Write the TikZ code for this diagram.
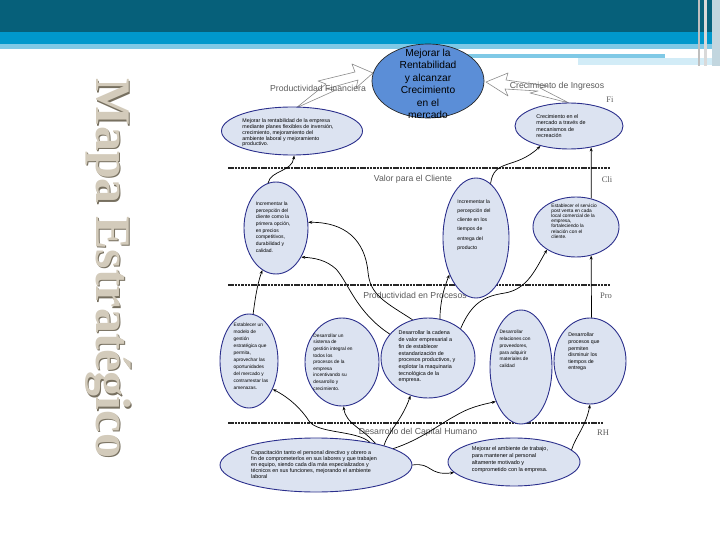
\documentclass[tikz,border=0pt]{standalone}
\usepackage{fontspec}
\setmainfont{Liberation Sans}
\newfontfamily\titlefont{Liberation Serif}
\usetikzlibrary{shapes.geometric,arrows.meta}
\definecolor{hdrdark}{HTML}{06607A}
\definecolor{hdrblue}{HTML}{0098CC}
\definecolor{hdrlight}{HTML}{7FC9E6}
\definecolor{hdrpale}{HTML}{D2ECF7}
\definecolor{ellblue}{HTML}{2B2F8C}
\definecolor{ellfill}{HTML}{DCE3F1}
\definecolor{bigfill}{HTML}{5B8ED7}
\definecolor{labgray}{HTML}{5A5A5A}
\definecolor{titlefill}{HTML}{D3CBBB}
\definecolor{titleshadow}{HTML}{777060}
\begin{document}
\begin{tikzpicture}[x=1pt,y=-1pt,
  obj/.style={ellipse, draw=ellblue, fill=ellfill, line width=0.9pt, inner sep=0pt},
  txt/.style={align=left, inner sep=0pt, text=black, font=\fontsize{5}{6.7}\selectfont},
  arr/.style={-{Stealth[length=4pt,width=3pt]}, line width=0.7pt, black},
  sep/.style={line width=1.3pt, dash pattern=on 2.5pt off 0.8pt, black!85},
  lbl/.style={font=\fontsize{8.7}{10}\selectfont, text=labgray, inner sep=0pt},
  side/.style={font=\titlefont\fontsize{8.5}{10}\selectfont, text=labgray, inner sep=0pt},
  hollow/.style={draw=black!45, fill=white, line width=0.6pt, line join=round}]
\useasboundingbox (0,0) rectangle (720,540);
% header
\fill[hdrdark] (0,0) rectangle (720,32);
\fill[hdrblue] (0,32) rectangle (720,44);
\fill[hdrlight] (0,44) rectangle (720,49);
\fill[hdrlight] (459,54) rectangle (665,58);
\fill[hdrpale] (578,58) rectangle (720,65);
\fill[black!25] (698,0) rectangle (700,66);
\fill[black!15] (704,0) rectangle (707,66);
\fill[hdrpale!80!gray] (712,0) rectangle (720,66);
% title
\node[rotate=-90, font=\titlefont\bfseries\fontsize{50}{50}\selectfont, text=titleshadow] (titleS) at (109.6,269.6) {Mapa Estratégico};
\node[rotate=-90, font=\titlefont\bfseries\fontsize{50}{50}\selectfont, text=titlefill] (title) at (108.5,268.5) {Mapa Estratégico};
% separators
\draw[sep] (228,168) -- (610,168);
\draw[sep] (228,285) -- (610,285);
\draw[sep] (228,423) -- (603,423);
% perspective labels
\node[lbl] (lcli) at (413,179) {Valor para el Cliente};
\node[lbl] (lpro) at (415,295) {Productividad en Procesos};
\node[lbl] (lrh) at (418,432) {Desarrollo del Capital Humano};
\node[side] (sfi) at (610,100) {Fi};
\node[side] (scli) at (607,180) {Cli};
\node[side] (spro) at (606,296) {Pro};
\node[side] (srh) at (603,433) {RH};
% hollow arrows
\draw[hollow] (296,108) -- (336,90) -- (326,89) -- (358,80) -- (356,88) -- (373,73) -- (352,64) -- (355,72) -- (318,81) -- (326,84) -- cycle;
\draw[hollow] (486,82) -- (508,73) -- (506,80) -- (548,86) -- (540,88) -- (569,103) -- (530,93) -- (538,91) -- (505,89) -- (508,96) -- cycle;
\node[lbl] (lfin) at (318,88) {Productividad Financiera};
\node[lbl] (ling) at (557,86) {Crecimiento de Ingresos};
% ellipses
\node[ellipse, draw=black!85, fill=bigfill, line width=0.7pt, minimum width=112pt, minimum height=74pt] (big) at (428,81) {};
\node[align=center, inner sep=0pt, font=\fontsize{10.2}{12.5}\selectfont] (bigT) at (428,84) {Mejorar la\\Rentabilidad\\y alcanzar\\Crecimiento\\en el\\mercado};
\node[obj, minimum width=141pt, minimum height=48pt] (fin) at (292,131) {};
\node[txt, font=\fontsize{5.3}{5.7}\selectfont] (finT) at (288,133) {Mejorar la rentabilidad de la empresa\\mediante planes flexibles de inversión,\\crecimiento, mejoramiento del\\ambiente laboral y mejoramiento\\productivo.};
\node[obj, minimum width=108pt, minimum height=46pt] (crec) at (569,126) {};
\node[txt, font=\fontsize{5.4}{6.3}\selectfont] (crecT) at (561,126) {Crecimiento en el\\mercado a través de\\mecanismos de\\recreación};
\node[obj, minimum width=64pt, minimum height=92pt] (cli1) at (276,228) {};
\node[txt] (cli1T) at (273,227) {Incrementar la\\percepción del\\cliente como la\\primera opción,\\en precios\\competitivos,\\durabilidad y\\calidad.};
\node[obj, minimum width=66pt, minimum height=120pt] (cli2) at (476,238) {};
\node[txt, font=\fontsize{5.1}{9.3}\selectfont] (cli2T) at (474,225) {Incrementar la\\percepción del\\cliente en los\\tiempos de\\entrega del\\producto};
\node[obj, minimum width=86pt, minimum height=60pt] (cli3) at (576,227) {};
\node[txt, font=\fontsize{4.8}{5.2}\selectfont] (cli3T) at (574,221) {Establecer el servicio\\post venta en cada\\local comercial de la\\empresa,\\fortaleciendo la\\relación con el\\cliente.};
\node[obj, minimum width=58pt, minimum height=94pt] (procA) at (249,361) {};
\node[txt, font=\fontsize{4.8}{7}\selectfont] (procAT) at (251,356) {Establecer un\\modelo de\\gestión\\estratégica que\\permita,\\aprovechar las\\oportunidades\\del mercado y\\contrarrestar las\\amenazas.};
\node[obj, minimum width=74pt, minimum height=88pt] (procB) at (342,362) {};
\node[txt, font=\fontsize{4.8}{6.6}\selectfont] (procBT) at (333,362) {Desarrollar un\\sistema de\\gestión integral en\\todos los\\procesos de la\\empresa\\incentivando su\\desarrollo y\\crecimiento.};
\node[obj, minimum width=94pt, minimum height=80pt] (procC) at (428,358) {};
\node[txt, font=\fontsize{5.4}{6.7}\selectfont] (procCT) at (427,357) {Desarrollar la cadena\\de valor empresarial a\\fin de establecer\\estandarización de\\procesos productivos, y\\explotar la maquinaria\\tecnológica de la\\empresa.};
\node[obj, minimum width=62pt, minimum height=114pt] (procD) at (521,367) {};
\node[txt, font=\fontsize{4.8}{6.8}\selectfont] (procDT) at (515,349) {Desarrollar\\relaciones con\\proveedores,\\para adquirir\\materiales de\\calidad};
\node[obj, minimum width=72pt, minimum height=86pt] (procE) at (590,361) {};
\node[txt, font=\fontsize{5.2}{6.6}\selectfont] (procET) at (584,352) {Desarrollar\\procesos que\\permiten\\disminuir los\\tiempos de\\entrega};
\node[obj, minimum width=192pt, minimum height=54pt] (hrA) at (316,465) {};
\node[txt, font=\fontsize{5.4}{6}\selectfont] (hrAT) at (314,465) {Capacitación tanto el personal directivo y obrero a\\fin de comprometerlos en sus labores y que trabajen\\en equipo, siendo cada día más especializados y\\técnicos en sus funciones, mejorando el ambiente\\laboral};
\node[obj, minimum width=132pt, minimum height=48pt] (hrB) at (514,462) {};
\node[txt, font=\fontsize{5.5}{7}\selectfont] (hrBT) at (510,460) {Mejorar el ambiente de trabajo,\\para mantener al personal\\altamente motivado y\\comprometido con la empresa.};
% connectors Cliente -> Financiera
\draw[arr] (cli1.100) .. controls (271,170) and (292,172) .. (fin.-85);
\draw[arr] (cli2.75) .. controls (494,158) and (515,170) .. (crec.215);
\draw[arr] (cli3.62) -- (crec.-44);
% Procesos -> Cliente
\draw[arr] (procA.85) .. controls (255,300) and (257,285) .. (cli1.252);
\draw[arr] (procC.112) .. controls (385,302) and (370,295) .. (368,272) .. controls (365,240) and (345,222) .. (cli1.10);
\draw[arr] (procC.148) .. controls (356,312) and (348,282) .. (336,269) .. controls (326,260) and (315,258) .. (cli1.-49);
\draw[arr] (procC.73) .. controls (440,302) and (444,288) .. (cli2.-126);
\draw[arr] (procC.42) .. controls (472,302) and (485,296) .. (505,293) .. controls (528,289) and (536,268) .. (cli3.218);
\draw[arr] (procE.88) -- (cli3.-62);
% Capital Humano -> Procesos
\draw[arr] (hrA.23) .. controls (356,430) and (318,434) .. (309,421) .. controls (302,410) and (290,398) .. (procA.-50);
\draw[arr] (hrA.20) .. controls (362,428) and (346,424) .. (procB.-88);
\draw[arr] (hrA.16) .. controls (388,432) and (402,420) .. (procC.-115);
\draw[arr] (hrA.12) .. controls (420,440) and (440,424) .. (455,416) .. controls (468,408) and (480,405) .. (procD.-126);
\draw[arr] (hrA.east) .. controls (432,462) and (428,476) .. (hrB.190);
\draw[arr] (hrB.12) .. controls (576,436) and (586,426) .. (procE.-90);
\end{tikzpicture}
\end{document}
